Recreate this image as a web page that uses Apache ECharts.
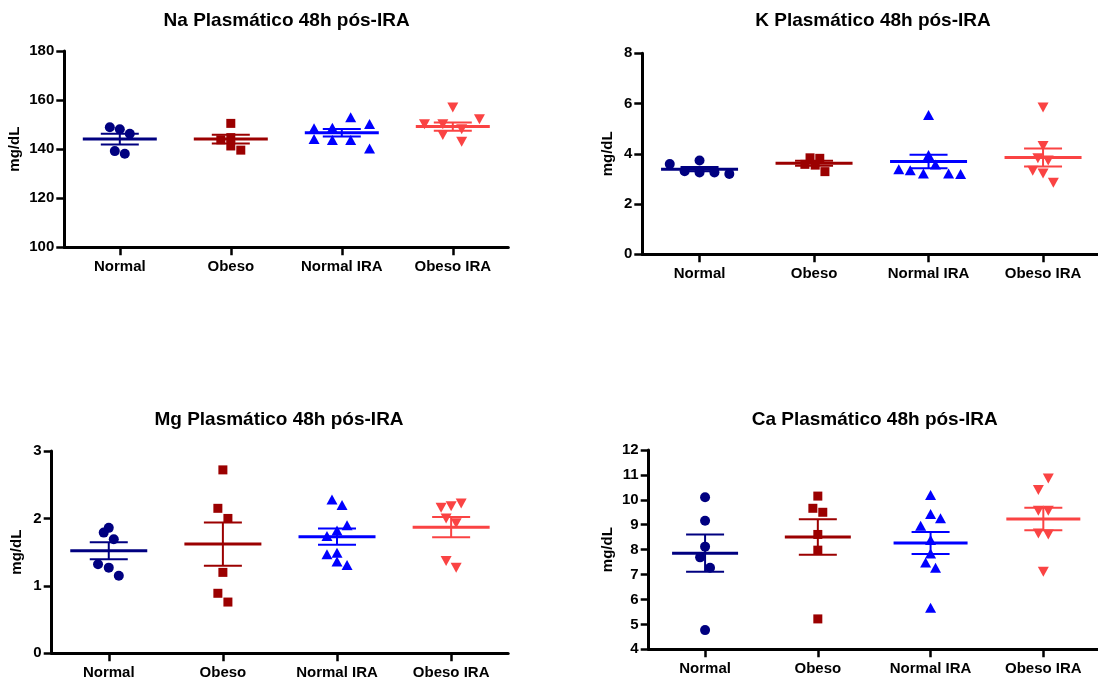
<!DOCTYPE html>
<html>
<head>
<meta charset="utf-8">
<script src="https://cdn.jsdelivr.net/npm/echarts@6/dist/echarts.min.js"></script>
<style>
html,body{margin:0;padding:0;background:#fff;}
#chart{width:1098px;height:686px;}
</style>
</head>
<body>
<div id="chart"></div>
<script>
// ---------- DATA ----------
const categories = ['Normal', 'Obeso', 'Normal IRA', 'Obeso IRA'];

// Na (mg/dL)
const naTitle = 'Na Plasmático 48h pós-IRA';
const naTicks = [100, 180, 20];
const naValues = [
  [148.9, 148.1, 146.3, 139.2, 138.1],
  [150.5, 143.8, 144.7, 141.3, 139.6],
  [148.5, 144.1, 148.7, 143.7, 153.0, 143.7, 150.2, 140.3],
  [150.1, 150.1, 145.8, 157.0, 148.1, 143.0, 152.2]
];
const naJitter = [
  [-0.09, 0, 0.09, -0.045, 0.045],
  [0, -0.09, 0, 0, 0.09],
  [-0.25, -0.25, -0.085, -0.085, 0.08, 0.08, 0.25, 0.25],
  [-0.255, -0.09, -0.09, 0, 0.08, 0.08, 0.24]
];
const naMean = [144.1, 144.1, 146.7, 149.2];
const naSem = [2.2, 1.8, 1.5, 1.7];

// K
const kTitle = 'K Plasmático 48h pós-IRA';
const kTicks = [0, 8, 2];
const kValues = [
  [3.59, 3.31, 3.73, 3.26, 3.26, 3.20],
  [3.84, 3.82, 3.58, 3.55, 3.29],
  [5.54, 3.95, 3.57, 3.39, 3.35, 3.22, 3.22, 3.20],
  [5.84, 4.31, 3.82, 3.73, 3.33, 3.22, 2.85]
];
const kJitter = [
  [-0.26, -0.13, 0, 0, 0.13, 0.26],
  [-0.035, 0.05, -0.08, 0.01, 0.095],
  [0, 0, 0.06, -0.26, -0.16, -0.045, 0.175, 0.28],
  [0, 0, -0.045, 0.045, -0.09, 0, 0.09]
];
const kMean = [3.39, 3.62, 3.69, 3.85];
const kSem = [0.08, 0.1, 0.27, 0.36];

// Mg
const mgTitle = 'Mg Plasmático 48h pós-IRA';
const mgTicks = [0, 3, 1];
const mgValues = [
  [1.79, 1.86, 1.69, 1.32, 1.27, 1.15],
  [2.72, 2.15, 2.00, 1.20, 0.89, 0.76],
  [2.28, 2.20, 1.90, 1.82, 1.74, 1.47, 1.49, 1.36, 1.31],
  [2.16, 2.18, 2.22, 2.00, 1.93, 1.37, 1.27]
];
const mgJitter = [
  [-0.044, 0, 0.044, -0.094, 0, 0.088],
  [0, -0.044, 0.044, 0, -0.044, 0.044],
  [-0.044, 0.044, 0.088, 0, -0.088, -0.088, 0, 0, 0.088],
  [-0.088, 0, 0.088, -0.044, 0.044, -0.044, 0.044]
];
const mgMean = [1.52, 1.62, 1.73, 1.87];
const mgSem = [0.125, 0.32, 0.12, 0.15];

// Ca
const caTitle = 'Ca Plasmático 48h pós-IRA';
const caTicks = [4, 12, 1];
const caValues = [
  [10.10, 9.16, 8.12, 7.69, 7.27, 4.77],
  [10.15, 9.66, 9.50, 8.61, 7.98, 5.22],
  [10.19, 9.43, 9.26, 8.96, 8.39, 7.85, 7.48, 7.27, 5.67],
  [10.86, 10.39, 9.56, 9.56, 8.65, 8.61, 7.11]
];
const caJitter = [
  [0, 0, 0, -0.044, 0.044, 0],
  [0, -0.044, 0.044, 0, 0, 0],
  [0, 0, 0.088, -0.088, 0, 0, -0.044, 0.044, 0],
  [0.044, -0.044, -0.044, 0.044, -0.044, 0.044, 0]
];
const caMean = [7.86, 8.51, 8.27, 9.23];
const caSem = [0.75, 0.71, 0.44, 0.45];

const yName = 'mg/dL';

// ---------- STYLE / LAYOUT ----------
const colors = ['#000080', '#9B0000', '#0000FF', '#FA4343'];
const symbols = [
  { symbol: 'circle', size: 10, rotate: 0 },
  { symbol: 'rect', size: 9, rotate: 0 },
  { symbol: 'triangle', size: [11, 10], rotate: 0 },
  { symbol: 'triangle', size: [11, 10], rotate: 180 }
];
const FONT = 'Liberation Sans, Arial, Helvetica, sans-serif';

const panels = [
  { title: naTitle, ticks: naTicks, values: naValues, jitter: naJitter, mean: naMean, sem: naSem,
    grid: { left: 64.3, top: 51, width: 444, height: 196.3 }, nameGap: 42,
    titlePos: [286.6, 20.7], meanW: [74, 74, 74, 74] },
  { title: kTitle, ticks: kTicks, values: kValues, jitter: kJitter, mean: kMean, sem: kSem,
    grid: { left: 642.3, top: 53.3, width: 458, height: 201 }, nameGap: 27,
    titlePos: [873, 20.6], meanW: [77, 77, 77, 77] },
  { title: mgTitle, ticks: mgTicks, values: mgValues, jitter: mgJitter, mean: mgMean, sem: mgSem,
    grid: { left: 51.7, top: 451, width: 456.5, height: 202.3 }, nameGap: 27.5,
    titlePos: [279, 420], meanW: [77, 77, 77, 77] },
  { title: caTitle, ticks: caTicks, values: caValues, jitter: caJitter, mean: caMean, sem: caSem,
    grid: { left: 648.7, top: 450, width: 451, height: 199.3 }, nameGap: 33,
    titlePos: [874.7, 420], meanW: [66, 66, 74, 74] }
];

const grids = [], xAxes = [], yAxes = [], series = [], graphics = [];

panels.forEach((p, pi) => {
  grids.push(Object.assign({ outerBoundsMode: 'none', containLabel: false }, p.grid));
  graphics.push({
    type: 'text', x: p.titlePos[0], y: p.titlePos[1],
    style: { text: p.title, fill: '#000', font: 'bold 19px ' + FONT, align: 'center', verticalAlign: 'middle' }
  });
  xAxes.push({
    type: 'value', gridIndex: pi, min: -0.5, max: 3.5,
    splitLine: { show: false },
    axisLine: { show: true, onZero: false, lineStyle: { color: '#000', width: 3 } },
    axisTick: { show: true, customValues: [0, 1, 2, 3], length: 8, lineStyle: { color: '#000', width: 2.5 } },
    axisLabel: {
      customValues: [0, 1, 2, 3], margin: 12.5,
      formatter: v => categories[Math.round(v)],
      color: '#000', fontWeight: 'bold', fontSize: 15, fontFamily: FONT
    }
  });
  yAxes.push({
    type: 'value', gridIndex: pi, min: p.ticks[0], max: p.ticks[1], interval: p.ticks[2],
    name: yName, nameLocation: 'middle', nameRotate: 90, nameGap: p.nameGap,
    nameTextStyle: { color: '#000', fontWeight: 'bold', fontSize: 15, fontFamily: FONT },
    splitLine: { show: false },
    axisLine: { show: true, onZero: false, lineStyle: { color: '#000', width: 3 } },
    axisTick: { show: true, length: 8, lineStyle: { color: '#000', width: 2.5 } },
    axisLabel: { margin: 10, color: '#000', fontWeight: 'bold', fontSize: 15, fontFamily: FONT }
  });

  categories.forEach((c, g) => {
    const pts = p.values[g].map((v, i) => [g + p.jitter[g][i], v]);
    series.push({
      type: 'scatter', xAxisIndex: pi, yAxisIndex: pi, name: c,
      data: pts, symbol: symbols[g].symbol, symbolSize: symbols[g].size, symbolRotate: symbols[g].rotate,
      itemStyle: { color: colors[g], opacity: 1 }, z: 2, silent: true
    });
  });

  const meanData = categories.map((c, g) => [g, p.mean[g], p.sem[g]]);
  series.push({
    type: 'custom', xAxisIndex: pi, yAxisIndex: pi, data: meanData, z: 3, silent: true,
    renderItem: (params, api) => {
      const g = api.value(0), m = api.value(1), s = api.value(2);
      const c = api.coord([g, m]);
      const hi = api.coord([g, m + s]);
      const lo = api.coord([g, m - s]);
      const mw = p.meanW[g] / 2, cw = 19;
      const col = colors[g];
      return {
        type: 'group',
        children: [
          { type: 'line', shape: { x1: c[0], y1: hi[1], x2: c[0], y2: lo[1] }, style: { stroke: col, lineWidth: 2 } },
          { type: 'line', shape: { x1: c[0] - cw, y1: hi[1], x2: c[0] + cw, y2: hi[1] }, style: { stroke: col, lineWidth: 2 } },
          { type: 'line', shape: { x1: c[0] - cw, y1: lo[1], x2: c[0] + cw, y2: lo[1] }, style: { stroke: col, lineWidth: 2 } },
          { type: 'line', shape: { x1: c[0] - mw, y1: c[1], x2: c[0] + mw, y2: c[1] }, style: { stroke: col, lineWidth: 3 } }
        ]
      };
    }
  });
});

const chart = echarts.init(document.getElementById('chart'), null, { renderer: 'canvas' });
chart.setOption({
  animation: false,
  backgroundColor: '#fff',
  graphic: graphics,
  grid: grids,
  xAxis: xAxes,
  yAxis: yAxes,
  series: series
});
</script>
</body>
</html>
